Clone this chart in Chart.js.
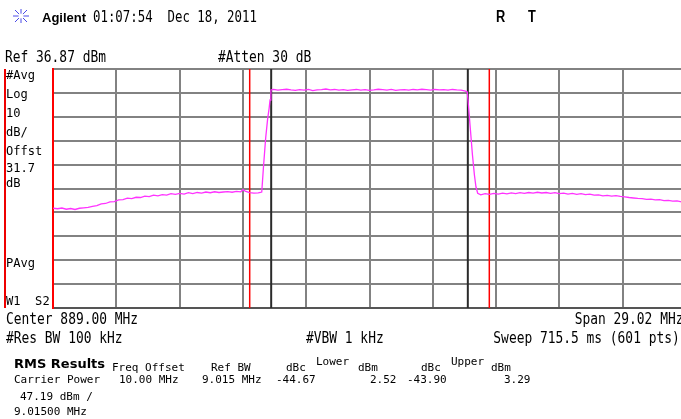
<!DOCTYPE html>
<html lang="en">
<head>
<meta charset="UTF-8">
<title>Agilent ACP</title>
<style>
  body { margin:0; width:681px; height:419px; overflow:hidden; background:#fff; position:relative; }
  #wrap { position:absolute; left:0; top:0; width:700px; height:419px; }
  .t { position:absolute; white-space:pre; font-family:'DejaVu Sans Mono', monospace; font-size:15px; line-height:15px; color:#000; transform:scaleX(0.86); transform-origin:0 0; }
  .r { transform-origin:100% 0; }
  .m { font-size:13px; line-height:13px; transform:scaleX(0.93); }
  .s { font-size:11px; line-height:11px; transform:none; }
  .b { font-family:'DejaVu Sans', sans-serif; font-weight:bold; font-size:13px; line-height:13px; transform:none; }
  .h { font-family:'Liberation Sans', Arial, sans-serif; font-weight:bold; }
  #redbar { position:absolute; left:4px; top:69px; width:2px; height:239px; background:#e00; }
</style>
</head>
<body>
  <div id="wrap"><canvas id="chart" width="700" height="419"></canvas></div>

  <svg width="18" height="16" style="position:absolute;left:12px;top:8px">
    <g stroke="#4a4ae8" stroke-width="1">
      <line x1="9" y1="1" x2="9" y2="15"/>
      <line x1="1" y1="8" x2="17" y2="8"/>
      <line x1="3" y1="2" x2="15" y2="14"/>
      <line x1="15" y1="2" x2="3" y2="14"/>
    </g>
    <circle cx="9" cy="8" r="2.5" fill="#fff"/>
  </svg>
  <div class="t h" style="left:42px;top:10.7px;font-size:13px;line-height:13px;transform:none">Agilent</div>
  <div class="t" style="left:93px;top:9.6px;transform:scaleX(0.825)">01:07:54  Dec 18, 2011</div>
  <div class="t h" style="left:496px;top:8.8px;font-size:16px;line-height:16px;transform:scaleX(0.8)">R</div>
  <div class="t h" style="left:528px;top:8.8px;font-size:16px;line-height:16px;transform:scaleX(0.8)">T</div>

  <div class="t" style="left:5px;top:50.3px">Ref 36.87 dBm</div>
  <div class="t" style="left:218px;top:50.3px">#Atten 30 dB</div>

  <div id="redbar"></div>
  <div class="t m" style="left:6px;top:68px">#Avg</div>
  <div class="t m" style="left:6px;top:87.3px">Log</div>
  <div class="t m" style="left:6px;top:106.3px">10</div>
  <div class="t m" style="left:6px;top:125px">dB/</div>
  <div class="t m" style="left:6px;top:144px">Offst</div>
  <div class="t m" style="left:6px;top:161px">31.7</div>
  <div class="t m" style="left:6px;top:175.7px">dB</div>
  <div class="t m" style="left:6px;top:255.7px">PAvg</div>
  <div class="t m" style="left:6px;top:294px">W1  S2</div>

  <div class="t" style="left:6px;top:312.3px">Center 889.00 MHz</div>
  <div class="t r" style="right:-2px;top:312.3px">Span 29.02 MHz</div>
  <div class="t" style="left:6px;top:331.3px">#Res BW 100 kHz</div>
  <div class="t" style="left:306px;top:331.3px">#VBW 1 kHz</div>
  <div class="t r" style="right:1px;top:331.3px">Sweep 715.5 ms (601 pts)</div>

  <div class="t b" style="left:14px;top:357.3px">RMS Results</div>
  <div class="t s" style="left:112px;top:361.7px">Freq Offset</div>
  <div class="t s" style="left:211px;top:361.7px">Ref BW</div>
  <div class="t s" style="left:286px;top:361.7px">dBc</div>
  <div class="t s" style="left:316px;top:355.7px">Lower</div>
  <div class="t s" style="left:358px;top:361.7px">dBm</div>
  <div class="t s" style="left:421px;top:361.7px">dBc</div>
  <div class="t s" style="left:451px;top:355.7px">Upper</div>
  <div class="t s" style="left:491px;top:361.7px">dBm</div>

  <div class="t s" style="left:14px;top:374px">Carrier Power</div>
  <div class="t s" style="left:119px;top:374px">10.00 MHz</div>
  <div class="t s" style="left:202px;top:374px">9.015 MHz</div>
  <div class="t s" style="left:276px;top:374px">-44.67</div>
  <div class="t s" style="left:370px;top:374px">2.52</div>
  <div class="t s" style="left:407px;top:374px">-43.90</div>
  <div class="t s" style="left:504px;top:374px">3.29</div>
  <div class="t s" style="left:20px;top:390.7px">47.19 dBm /</div>
  <div class="t s" style="left:14px;top:405.7px">9.01500 MHz</div>

  <script src="https://cdn.jsdelivr.net/npm/chart.js"></script>
  <script>
    // sweep settings
    const refLevelDbm = 36.87;
    const dbPerDiv = 10;
    const startMHz = 874.49;
    const stopMHz = 903.51;

    // trace in pieces
    const lowerFreq = [874.5, 874.7, 874.9, 875.1, 875.3, 875.5, 875.7, 875.9, 876.1, 876.3,
      876.5, 876.7, 876.9, 877.1, 877.3, 877.5, 877.7, 877.9, 878.1, 878.3,
      878.5, 878.7, 878.9, 879.1, 879.3, 879.5, 879.7, 879.9, 880.1, 880.3,
      880.5, 880.7, 880.9, 881.1, 881.3, 881.5, 881.7, 881.9, 882.1, 882.3,
      882.5, 882.7, 882.9, 883.1, 883.2, 883.3, 883.5, 883.7, 883.9, 884.0];
    const lowerLevel = [-21.4, -21.6, -21.3, -21.8, -21.5, -21.9, -21.4, -21.2, -21.0, -20.6,
      -20.3, -19.6, -19.4, -18.7, -18.6, -17.9, -17.8, -17.2, -17.4, -16.8,
      -16.9, -16.3, -16.5, -15.9, -16.2, -15.7, -15.9, -15.3, -15.6, -15.2,
      -15.5, -14.9, -15.3, -14.8, -15.1, -14.6, -14.9, -14.5, -14.8, -14.6,
      -14.4, -14.7, -14.3, -14.5, -13.6, -14.2, -14.9, -15.1, -15.0, -14.8];

    const riseFreq = [884.06, 884.14, 884.24, 884.33, 884.40, 884.44, 884.48];
    const riseLevel = [-14.6, -4.0, 8.0, 16.0, 20.5, 23.9, 28.1];

    const carrierFreq = [884.6, 884.8, 885.0, 885.2, 885.4, 885.6, 885.8, 886.0, 886.2, 886.4,
      886.6, 886.8, 887.0, 887.2, 887.4, 887.6, 887.8, 888.0, 888.2, 888.4,
      888.6, 888.8, 889.0, 889.2, 889.4, 889.6, 889.8, 890.0, 890.2, 890.4,
      890.6, 890.8, 891.0, 891.2, 891.4, 891.6, 891.8, 892.0, 892.2, 892.4,
      892.6, 892.8, 893.0, 893.2, 893.4];
    const carrierLevel = [28.3, 28.0, 28.2, 28.4, 28.1, 27.9, 28.2, 28.0, 28.3, 27.8,
      28.1, 28.2, 28.5, 28.1, 28.3, 28.0, 28.2, 27.9, 28.1, 28.3,
      28.0, 28.2, 27.9, 28.1, 28.4, 28.2, 28.0, 28.3, 27.9, 28.1,
      28.2, 28.0, 28.3, 28.1, 28.4, 28.2, 28.0, 28.3, 28.1, 28.2,
      28.0, 28.3, 28.1, 28.0, 27.6];

    const fallFreq = [893.48, 893.52, 893.62, 893.72, 893.81, 893.88, 893.96];
    const fallLevel = [27.3, 23.5, 12.2, 0.9, -7.5, -12.4, -15.1];

    const upperFreq = [894.1, 894.3, 894.5, 894.7, 894.9, 895.1, 895.3, 895.5, 895.7, 895.9,
      896.1, 896.3, 896.5, 896.7, 896.9, 897.1, 897.3, 897.5, 897.7, 897.9,
      898.1, 898.3, 898.5, 898.7, 898.9, 899.1, 899.3, 899.5, 899.7, 899.9,
      900.1, 900.3, 900.5, 900.7, 900.9, 901.1, 901.3, 901.5, 901.7, 901.9,
      902.1, 902.3, 902.5, 902.7, 902.9, 903.1, 903.3, 903.5];
    const upperLevel = [-15.8, -15.3, -15.6, -15.2, -15.5, -15.1, -15.4, -15.0, -15.3, -14.9,
      -15.2, -14.8, -15.1, -14.7, -15.0, -14.8, -15.2, -14.9, -15.3, -15.1,
      -15.5, -15.2, -15.6, -15.3, -15.7, -15.5, -15.9, -15.8, -16.2, -16.0,
      -16.3, -16.1, -16.4, -16.6, -16.9, -17.1, -17.3, -17.4, -17.7, -17.6,
      -17.9, -17.8, -18.2, -18.1, -18.4, -18.3, -18.7, -18.8];

    // channel edges (black = carrier, red = adjacent)
    const carrierEdges = [884.4925, 893.5075];
    const adjacentEdges = [883.5075, 894.4925];

    const traceFreq = [...lowerFreq, ...riseFreq, ...carrierFreq, ...fallFreq, ...upperFreq];
    const traceLevel = [...lowerLevel, ...riseLevel, ...carrierLevel, ...fallLevel, ...upperLevel];

    const bottomDbm = refLevelDbm - 10 * dbPerDiv;

    function edgeLine(f, color, width) {
      return {
        data: [{ x: f, y: bottomDbm }, { x: f, y: refLevelDbm }],
        borderColor: color,
        borderWidth: width,
        pointRadius: 0
      };
    }

    const datasets = [{
      data: traceFreq.map((f, i) => ({ x: f, y: traceLevel[i] })),
      borderColor: '#ff33ff',
      borderWidth: 1.3,
      pointRadius: 0,
      tension: 0
    }];
    carrierEdges.forEach(f => datasets.push(edgeLine(f, '#2a2a2a', 2)));
    adjacentEdges.forEach(f => datasets.push(edgeLine(f, '#ff0000', 1.5)));

    const gridOpts = { color: '#828282', lineWidth: 2, drawTicks: false };

    new Chart(document.getElementById('chart'), {
      type: 'line',
      data: { datasets: datasets },
      options: {
        responsive: false,
        animation: false,
        devicePixelRatio: 1,
        layout: { padding: { left: 53, top: 69, right: 14, bottom: 111 } },
        plugins: { legend: { display: false }, tooltip: { enabled: false } },
        scales: {
          x: {
            type: 'linear',
            min: startMHz,
            max: stopMHz,
            afterBuildTicks: axis => {
              axis.ticks = [];
              for (let i = 0; i <= 10; i++) axis.ticks.push({ value: startMHz + i * (stopMHz - startMHz) / 10 });
            },
            ticks: { display: false },
            grid: gridOpts,
            border: { color: '#555', width: 2 }
          },
          y: {
            type: 'linear',
            min: bottomDbm,
            max: refLevelDbm,
            afterBuildTicks: axis => {
              axis.ticks = [];
              for (let i = 0; i <= 10; i++) axis.ticks.push({ value: bottomDbm + i * dbPerDiv });
            },
            ticks: { display: false },
            grid: gridOpts,
            border: { color: '#ff0000', width: 2 }
          }
        }
      }
    });
  </script>
</body>
</html>
